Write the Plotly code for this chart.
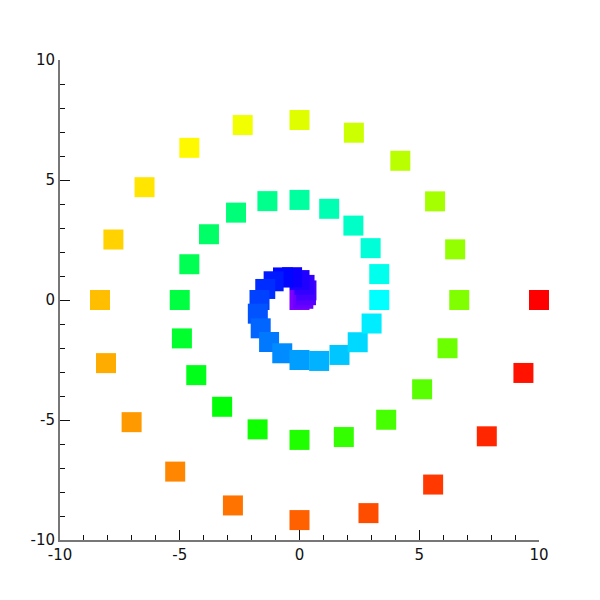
import plotly.graph_objects as go

# Spiral points (inner -> outer)
x_vals = [0, 0.16, 0.27, 0.29, 0.21, 0, -0.31, -0.69, -1.08, -1.43,
          -1.67, -1.74, -1.62, -1.27, -0.72, 0, 0.82, 1.67, 2.43, 3.01,
          3.33, 3.33, 2.97, 2.25, 1.24, 0, -1.34, -2.65, -3.78, -4.60,
          -5.00, -4.91, -4.31, -3.23, -1.75, 0, 1.85, 3.62, 5.12, 6.18,
          6.67, 6.50, 5.66, 4.21, 2.27, 0, -2.37, -4.60, -6.47, -7.77,
          -8.33, -8.08, -7.01, -5.19, -2.78, 0, 2.88, 5.58, 7.82, 9.35,
          10.0]
y_vals = [0, 0.05, 0.20, 0.40, 0.63, 0.83, 0.95, 0.94, 0.78, 0.46,
          0, -0.57, -1.18, -1.75, -2.22, -2.50, -2.54, -2.29, -1.76, -0.98,
          0, 1.08, 2.16, 3.10, 3.80, 4.17, 4.12, 3.64, 2.74, 1.49,
          0, -1.60, -3.13, -4.45, -5.39, -5.83, -5.71, -4.99, -3.72, -2.01,
          0, 2.11, 4.11, 5.80, 6.97, 7.50, 7.29, 6.34, 4.70, 2.52,
          0, -2.63, -5.09, -7.15, -8.56, -9.17, -8.88, -7.69, -5.68, -3.04,
          0]

tick_vals = [-10, -5, 0, 5, 10]
tick_text = ["-10", "-5", "0", "5", "10"]

n = len(x_vals)
colors = ["hsl(%.1f,100%%,50%%)" % (270 - 270 * i / (n - 1)) for i in range(n)]

fig = go.Figure(go.Scatter(
    x=x_vals, y=y_vals, mode="markers", cliponaxis=False,
    marker=dict(symbol="square", size=20, color=colors, line=dict(width=0)),
    hoverinfo="skip",
))

axis_common = dict(
    range=[-10, 10], tickvals=tick_vals, ticktext=tick_text,
    ticks="inside", ticklen=10, tickwidth=1, tickcolor="#111",
    showline=True, linecolor="#777", linewidth=2, mirror=False,
    showgrid=False, zeroline=False, automargin=False,
    tickfont=dict(family="DejaVu Sans", size=15, color="#111"),
    minor=dict(dtick=1, tick0=0, ticks="inside", ticklen=5, tickwidth=1, tickcolor="#111", showgrid=False),
)

fig.update_layout(
    width=600, height=600,
    margin=dict(l=52, r=69, t=52, b=68),
    paper_bgcolor="white", plot_bgcolor="white",
    showlegend=False,
    xaxis=axis_common,
    yaxis=axis_common,
)

fig.write_html("out.html")
